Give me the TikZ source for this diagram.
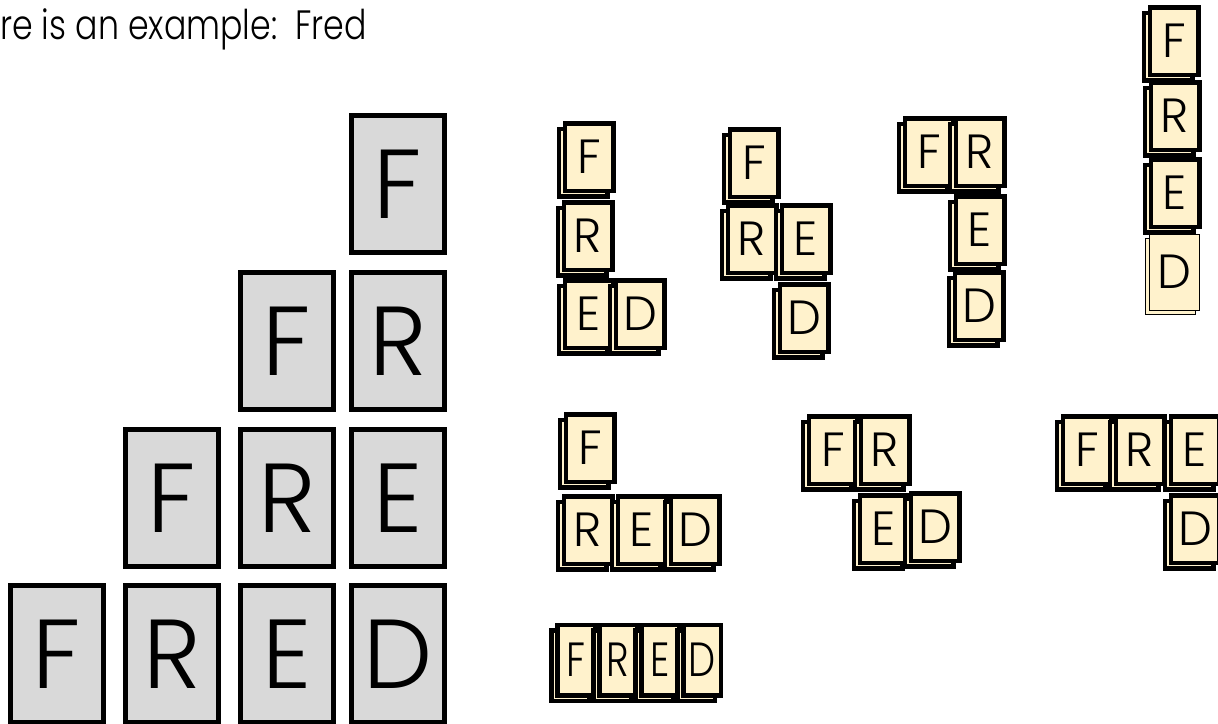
\documentclass[tikz,border=0pt]{standalone}
\usepackage{fontspec}
\setmainfont{Poppins}[UprightFont=* Light]
\usetikzlibrary{shadows}
\definecolor{tilebg}{HTML}{FFF2CC}
\definecolor{greybg}{HTML}{D9D9D9}
\begin{document}
\begin{tikzpicture}[x=1pt,y=-1pt,
  gtile/.style={draw=black, line width=5pt, fill=greybg, minimum width=93pt,
    minimum height=137pt, inner sep=0pt, font=\fontsize{98}{100}\selectfont},
  btile/.style={draw=black, line width=4.5pt, fill=tilebg, minimum width=48.5pt,
    minimum height=67.5pt, inner sep=0pt, font=\fontsize{48}{50}\selectfont,
    general shadow={shadow xshift=-6pt, shadow yshift=-5.5pt, draw=black,
      fill=tilebg, line width=4.5pt}},
  thintile/.style={draw=black, line width=1pt, fill=tilebg, minimum width=50pt,
    minimum height=76pt, inner sep=0pt, font=\fontsize{48}{50}\selectfont,
    general shadow={shadow xshift=-4pt, shadow yshift=-4pt, draw=black,
      fill=tilebg, line width=1pt}},
  ntile/.style={btile, minimum width=37.5pt, minimum height=70.5pt},
  header/.style={anchor=base west, inner sep=0pt, font=\fontsize{41}{43}\selectfont}
]
\useasboundingbox (0,0) rectangle (1218,723);

\node[header] (title) at (0,39) {\scalebox{0.81}[1]{re is an example:\ \ Fred}};

% grey pyramid
\node[gtile] (g11) at (398,184) {F};
\node[gtile] (g21) at (287,341) {F};
\node[gtile] (g22) at (398,341) {R};
\node[gtile] (g31) at (172,498) {F};
\node[gtile] (g32) at (287,498) {R};
\node[gtile] (g33) at (398,498) {E};
\node[gtile] (g41) at (57,654) {F};
\node[gtile] (g42) at (172,654) {R};
\node[gtile] (g43) at (287,654) {E};
\node[gtile] (g44) at (398,654) {D};

% group 1
\node[btile] (a1) at (589,157) {F};
\node[btile] (a2) at (588,236) {R};
\node[btile] (a3) at (589,314) {E};
\node[btile] (a4) at (640,314) {D};

% group 2
\node[btile] (b1) at (754,163) {F};
\node[btile] (b2) at (752,239) {R};
\node[btile] (b3) at (806,239) {E};
\node[btile] (b4) at (804,318) {D};

% group 3
\node[btile] (c1) at (929,152) {F};
\node[btile] (c2) at (980,152) {R};
\node[btile] (c3) at (980,230) {E};
\node[btile] (c4) at (979,306) {D};

% group 4
\node[btile] (d1) at (1174,41) {F};
\node[btile] (d2) at (1175,116) {R};
\node[btile] (d3) at (1175,193) {E};
\node[thintile] (d4) at (1174,272) {D};

% group 5
\node[btile] (e1) at (590,448) {F};
\node[btile] (e2) at (588,530) {R};
\node[btile] (e3) at (642,530) {E};
\node[btile] (e4) at (695,530) {D};

% group 6
\node[btile] (f1) at (833,450) {F};
\node[btile] (f2) at (885,450) {R};
\node[btile] (f3) at (884,529) {E};
\node[btile] (f4) at (935,527) {D};

% group 7
\node[btile] (h1) at (1087,450) {F};
\node[btile] (h2) at (1140,450) {R};
\node[btile] (h3) at (1195,450) {E};
\node[btile] (h4) at (1195,529) {D};

% group 8
\node[ntile] (k1) at (576,660) {\scalebox{0.8}[1]{F}};
\node[ntile] (k2) at (618,660) {\scalebox{0.8}[1]{R}};
\node[ntile] (k3) at (660,660) {\scalebox{0.8}[1]{E}};
\node[ntile] (k4) at (702,660) {\scalebox{0.8}[1]{D}};
\end{tikzpicture}
\end{document}
